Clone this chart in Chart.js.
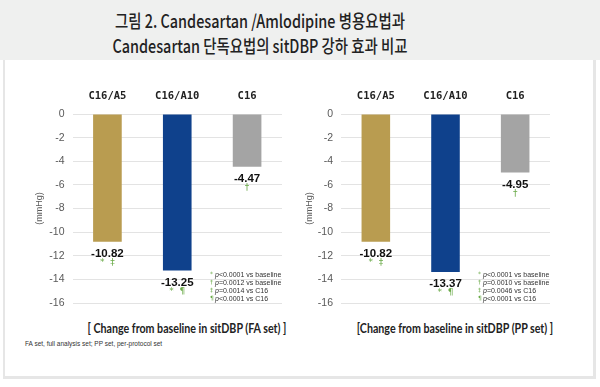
<!DOCTYPE html>
<html>
<head>
<meta charset="utf-8">
<script src="https://cdn.jsdelivr.net/npm/chart.js@4"></script>
<style>
body{margin:0;width:600px;height:387px;background:#fff;position:relative;overflow:hidden;font-family:"Liberation Sans",sans-serif}
#head{position:absolute;left:0;top:0;width:600px;height:60px;background:#eff0ef}
#head div{position:absolute;left:0;width:520px;text-align:center;font-family:"Noto Sans CJK KR";font-size:18px;font-weight:500;color:#222;transform:scaleX(0.8);white-space:nowrap;line-height:24px}
#panel{position:absolute;left:3px;top:60px;width:588px;height:316px;border-left:2px solid #e6e6e6;border-right:3px solid #e6e6e6;border-bottom:3px solid #e6e6e6}
canvas{position:absolute;top:60px}
.sub{position:absolute;top:320px;width:280px;text-align:center;font-family:Lato;font-weight:bold;font-size:13px;color:#222;white-space:nowrap;transform:scaleX(0.82)}
#foot{position:absolute;left:25px;top:340px;font-size:6.5px;color:#333;white-space:nowrap}
</style>
</head>
<body>
<div id="head">
  <div style="top:8px">그림 2. Candesartan /Amlodipine 병용요법과</div>
  <div style="top:33px">Candesartan 단독요법의 sitDBP 강하 효과 비교</div>
</div>
<div id="panel"></div>
<canvas id="faChart" width="280" height="260" style="left:20px"></canvas>
<canvas id="ppChart" width="280" height="260" style="left:300px"></canvas>
<div class="sub" style="left:47px">[ Change from baseline in sitDBP (FA set) ]</div>
<div class="sub" style="left:315px">[Change from baseline in sitDBP (PP set) ]</div>
<div id="foot">FA set, full analysis set; PP set, per-protocol set</div>
<script>
const categories = ['C16/A5', 'C16/A10', 'C16'];
const faValues = [-10.82, -13.25, -4.47];
const ppValues = [-10.82, -13.37, -4.95];
const faMarks = ['*  \u2021', '*  \u00b6', '\u2020'];
const ppMarks = ['*  \u2021', '*  \u00b6', '\u2020'];
const noteSymbols = ['*', '\u2020', '\u2021', '\u00b6'];
const faNotes = ['<0.0001 vs baseline', '=0.0012 vs baseline', '=0.0014 vs C16', '<0.0001 vs C16'];
const ppNotes = ['<0.0001 vs baseline', '=0.0010 vs baseline', '=0.0046 vs C16', '<0.0001 vs C16'];
const barColors = ['#b99c50', '#0f418c', '#a4a4a4'];

const barNotes = {
  id: 'barNotes',
  afterDatasetsDraw(chart, args, opts) {
    const ctx = chart.ctx;
    const meta = chart.getDatasetMeta(0);
    const vals = chart.data.datasets[0].data;
    ctx.save();
    ctx.textAlign = 'center';
    ctx.textBaseline = 'middle';
    meta.data.forEach((bar, i) => {
      ctx.fillStyle = '#111';
      ctx.font = 'bold 11.5px "Liberation Sans"';
      ctx.fillText(vals[i].toFixed(2), bar.x, bar.y + 12);
      ctx.fillStyle = '#6aaa48';
      ctx.font = '9px "DejaVu Sans"';
      ctx.fillText(opts.marks[i], bar.x, bar.y + 21);
    });
    // p-value key
    const x0 = chart.chartArea.right - 72;
    ctx.textAlign = 'left';
    opts.notes.forEach((t, k) => {
      const y = chart.chartArea.bottom - 28 + k * 8;
      ctx.fillStyle = '#6aaa48';
      ctx.font = '6px "DejaVu Sans"';
      ctx.fillText(noteSymbols[k], x0, y - 1);
      ctx.fillStyle = '#333';
      ctx.font = 'italic 7px "Liberation Sans"';
      ctx.fillText('p', x0 + 5, y);
      const w = ctx.measureText('p').width;
      ctx.font = '7px "Liberation Sans"';
      ctx.fillText(t, x0 + 5 + w, y);
    });
    ctx.restore();
  }
};

function makeChart(id, values, marks, notes, padLeft, padRight, axisWidth) {
  return new Chart(document.getElementById(id), {
    type: 'bar',
    data: {
      labels: categories,
      datasets: [{
        data: values,
        backgroundColor: barColors,
        categoryPercentage: 1,
        barPercentage: 0.41
      }]
    },
    options: {
      responsive: false,
      animation: false,
      layout: {padding: {left: padLeft, right: padRight, top: 24, bottom: 17}},
      plugins: {
        legend: {display: false},
        tooltip: {enabled: false},
        barNotes: {marks: marks, notes: notes}
      },
      scales: {
        x: {
          position: 'top',
          grid: {display: false},
          border: {display: false},
          ticks: {color: '#222', font: {family: 'DejaVu Sans Mono', weight: 'bold', size: 10.5}, padding: 3},
          afterFit(s) { s.height = 30; }
        },
        y: {
          min: -16,
          max: 0,
          grid: {color: '#e3e3e3', drawTicks: false},
          border: {display: false},
          ticks: {stepSize: 2, color: '#595959', font: {family: 'Liberation Sans', size: 10.5}, padding: 8},
          title: {display: true, text: '(mmHg)', color: '#595959', font: {family: 'Liberation Sans', size: 9}},
          afterFit(s) { s.width = axisWidth; }
        }
      }
    },
    plugins: [barNotes]
  });
}

makeChart('faChart', faValues, faMarks, faNotes, 10, 18, 42.5);
makeChart('ppChart', ppValues, ppMarks, ppNotes, 0, 30, 41);
</script>
</body>
</html>
